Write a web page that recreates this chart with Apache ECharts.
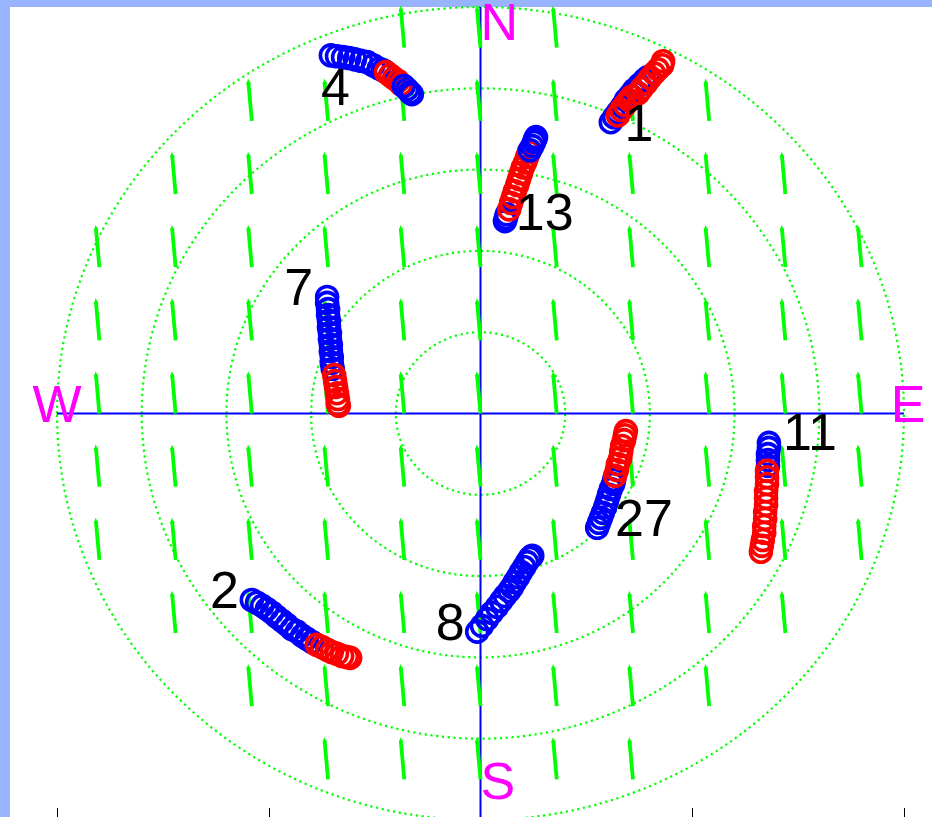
<!DOCTYPE html>
<html>
<head>
    <meta charset="utf-8">
    <title>Sky plot</title>
    <script src="https://cdn.jsdelivr.net/npm/echarts@6/dist/echarts.min.js"></script>
    <style>
        html, body { margin: 0; padding: 0; background: #99b4ff; }
        #map { width: 932px; height: 817px; }
    </style>
</head>
<body>
<div id="map"></div>
<script>
    // elevation rings (zenith distance)
    var ringRadii = [18, 36, 54, 72, 90];

    // quiver field: tails on a grid, one vector for all arrows
    var quiverRowY = [81, 64.8, 48.6, 32.4, 16.2, 0, -16.2, -32.4, -48.6, -64.8, -81];
    var quiverColX = [-81, -64.8, -48.6, -32.4, -16.2, 0, 16.2, 32.4, 48.6, 64.8, 81];
    var quiverHalfSpan = [1, 3, 4, 5, 5, 5, 5, 5, 4, 3, 2];
    var quiverU = -0.74, quiverV = 8.6;

    // bottom axis ticks
    var xTicks = [-90, -45, 0, 45, 90];

    // compass letters
    var compassText = ['N', 'E', 'S', 'W'];
    var compassX = [0, 90.9, 0, -90];
    var compassY = [85.8, 1.4, -82.2, 1.4];
    var compassAlign = ['left', 'center', 'left', 'center'];

    // satellite tracks: [x, y, 0 = blue / 1 = red]
    var sat4 = [[-31.8, 79.3, 0], [-30.5, 79.1, 0], [-29.2, 78.9, 0], [-27.9, 78.7, 0], [-26.7, 78.4, 0], [-25.4, 78.1, 0],
        [-24.1, 77.8, 0], [-22.8, 77.1, 0], [-21.6, 76.4, 0], [-20.7, 76.0, 0],
        [-20.1, 75.6, 1], [-19.2, 74.9, 1], [-18.4, 74.2, 1], [-17.5, 73.6, 1], [-16.9, 72.9, 1],
        [-16.3, 72.5, 0], [-15.6, 71.8, 0], [-15.0, 71.1, 0], [-14.6, 70.7, 0]];
    var sat1 = [[27.7, 64.5, 0], [28.4, 65.6, 0], [29.2, 66.7, 0], [30.1, 68.0, 0], [30.9, 69.4, 0], [31.8, 70.5, 0],
        [32.6, 71.6, 0], [33.7, 72.7, 0], [34.8, 73.8, 0], [35.6, 74.5, 0],
        [29.2, 66.0, 1], [29.9, 67.2, 1], [30.7, 68.3, 1], [31.6, 69.4, 1], [32.2, 70.2, 1],
        [33.5, 70.9, 1], [34.3, 72.0, 1], [35.2, 73.1, 1], [36.0, 74.2, 1], [36.9, 75.3, 1], [37.7, 76.2, 1],
        [38.6, 77.1, 1], [38.8, 78.0, 1]];
    var sat13 = [[5.2, 42.6, 0], [5.4, 43.3, 0], [5.6, 44.1, 0],
        [6.1, 45.2, 1], [6.5, 46.6, 1], [6.9, 47.9, 1], [7.3, 49.2, 1], [7.8, 50.6, 1], [8.2, 51.9, 1], [8.6, 53.2, 1],
        [9.0, 54.5, 1], [9.5, 55.6, 1], [9.9, 56.8, 1], [10.3, 57.9, 1],
        [10.5, 58.3, 0], [11.0, 59.2, 0], [11.4, 60.1, 0], [11.6, 60.7, 0], [11.8, 61.2, 0]];
    var sat7 = [[-32.6, 25.8, 0], [-32.6, 24.5, 0], [-32.4, 23.1, 0], [-32.4, 21.8, 0], [-32.2, 20.5, 0], [-32.2, 19.1, 0],
        [-32.0, 17.8, 0], [-32.0, 16.5, 0], [-31.8, 15.2, 0], [-31.8, 13.8, 0], [-31.6, 12.5, 0], [-31.6, 11.2, 0], [-31.4, 9.9, 0],
        [-31.1, 8.5, 1], [-30.9, 7.2, 1], [-30.7, 5.9, 1], [-30.5, 4.5, 1], [-30.3, 3.2, 1], [-30.3, 2.1, 1], [-30.1, 1.7, 1]];
    var sat11 = [[61.3, -6.5, 0], [61.3, -7.6, 0], [61.1, -9.0, 0], [61.1, -10.3, 0], [61.1, -11.6, 0],
        [60.9, -12.7, 1], [60.9, -14.1, 1], [60.9, -15.6, 1], [60.7, -17.2, 1], [60.7, -18.7, 1], [60.7, -20.2, 1],
        [60.5, -21.8, 1], [60.5, -23.3, 1], [60.3, -24.9, 1], [60.3, -26.4, 1], [60.0, -28.0, 1], [59.8, -29.3, 1], [59.6, -30.6, 1]];
    var sat27 = [[24.8, -25.3, 0], [25.2, -24.2, 0], [25.6, -23.1, 0], [26.0, -22.0, 0], [26.5, -20.7, 0], [26.9, -19.4, 0],
        [27.3, -18.0, 0], [27.7, -16.7, 0], [28.2, -15.6, 0], [28.4, -14.7, 0],
        [28.6, -13.8, 1], [29.0, -12.5, 1], [29.2, -11.2, 1], [29.7, -9.9, 1], [29.9, -8.5, 1], [30.1, -7.2, 1],
        [30.5, -5.9, 1], [30.7, -4.8, 1], [30.9, -3.9, 1]];
    var sat2 = [[-48.6, -41.3, 0], [-47.5, -41.9, 0], [-46.4, -42.6, 0], [-45.4, -43.3, 0], [-44.3, -44.1, 0], [-43.3, -45.0, 0],
        [-42.2, -45.9, 0], [-41.1, -46.8, 0], [-40.1, -47.7, 0], [-39.0, -48.3, 0], [-37.9, -49.2, 0], [-36.9, -49.9, 0], [-35.8, -50.6, 0],
        [-34.8, -51.2, 1], [-33.7, -51.7, 1], [-32.6, -52.3, 1], [-31.6, -52.8, 1], [-30.5, -53.2, 1], [-29.4, -53.7, 1],
        [-28.4, -53.9, 1], [-27.7, -54.1, 1]];
    var sat8 = [[-0.7, -48.3, 0], [0.3, -47.0, 0], [1.4, -45.5, 0], [2.4, -44.1, 0], [3.5, -42.8, 0], [4.4, -41.5, 0],
        [5.2, -40.4, 0], [6.1, -39.3, 0], [6.7, -38.4, 0], [7.3, -37.3, 0], [8.0, -36.2, 0], [8.6, -35.1, 0],
        [9.3, -34.0, 0], [9.9, -32.9, 0], [10.5, -32.0, 0], [11.0, -31.5, 0]];

    // satellite numbers and where they are written
    var prns = ['4', '1', '13', '7', '11', '27', '2', '8'];
    var prnX = [-33.9, 30.6, 7.5, -41.7, 64.3, 28.6, -57.5, -9.5];
    var prnY = [71.4, 63.5, 43.9, 27.1, -5.0, -23.9, -39.8, -46.9];

    var tracks = [sat4, sat1, sat13, sat7, sat11, sat27, sat2, sat8];
    var FONT = 'normal 52px "Liberation Sans", Arial, Helvetica, sans-serif';

    var quiverData = [];
    quiverRowY.forEach(function (y, i) {
        quiverColX.forEach(function (x, j) {
            if (Math.abs(j - 5) <= quiverHalfSpan[i]) quiverData.push([x, y]);
        });
    });

    function trackSeries(pts) {
        return {
            type: 'scatter',
            symbol: 'circle',
            symbolSize: 21,
            silent: true,
            z: 4,
            itemStyle: { color: 'rgba(0,0,0,0)', borderWidth: 3.6, opacity: 1 },
            data: pts.map(function (p) {
                return { value: [p[0], p[1]], itemStyle: { borderColor: p[2] ? '#ff0000' : '#0000ff' } };
            })
        };
    }

    function textSeries(xs, ys, texts, aligns, color, z) {
        return {
            type: 'custom',
            silent: true,
            z: z,
            data: xs.map(function (x, i) { return [x, ys[i]]; }),
            renderItem: function (params, api) {
                var p = api.coord([api.value(0), api.value(1)]);
                var a = aligns ? aligns[params.dataIndex] : 'left';
                return {
                    type: 'text',
                    style: {
                        text: texts[params.dataIndex], x: p[0], y: p[1], fill: color, font: FONT,
                        textAlign: a, align: a, textVerticalAlign: 'middle', verticalAlign: 'middle'
                    }
                };
            }
        };
    }

    var series = [
        {
            type: 'custom',
            silent: true,
            z: 1,
            data: ringRadii.map(function (r) { return [r, 0]; }),
            renderItem: function (params, api) {
                var r = api.value(0);
                var c = api.coord([0, 0]);
                var s = api.size([r, r]);
                return {
                    type: 'ellipse',
                    shape: { cx: c[0], cy: c[1], rx: s[0], ry: s[1] },
                    style: { fill: 'none', stroke: '#00ff00', lineWidth: 2.2, lineDash: [2.2, 3.6] }
                };
            }
        },
        {
            type: 'line', silent: true, z: 2, symbol: 'none',
            lineStyle: { color: '#0000ff', width: 2 },
            data: [[-90, 0], [90, 0]]
        },
        {
            type: 'line', silent: true, z: 2, symbol: 'none',
            lineStyle: { color: '#0000ff', width: 2 },
            data: [[0, -90], [0, 90]]
        },
        {
            type: 'custom',
            silent: true,
            z: 3,
            data: quiverData,
            renderItem: function (params, api) {
                var t = api.coord([api.value(0), api.value(1)]);
                var h = api.coord([api.value(0) + quiverU, api.value(1) + quiverV]);
                var dx = h[0] - t[0], dy = h[1] - t[1];
                var len = Math.sqrt(dx * dx + dy * dy), ux = dx / len, uy = dy / len;
                var b = 2.5, w = 1;
                return {
                    type: 'group',
                    children: [
                        {
                            type: 'line',
                            shape: { x1: t[0], y1: t[1], x2: h[0], y2: h[1] },
                            style: { stroke: '#00ff00', lineWidth: 3.8 }
                        },
                        {
                            type: 'polyline',
                            shape: {
                                points: [[h[0] - ux * b - uy * w, h[1] - uy * b + ux * w], [h[0], h[1]],
                                    [h[0] - ux * b + uy * w, h[1] - uy * b - ux * w]]
                            },
                            style: { stroke: '#00ff00', lineWidth: 2.5, fill: 'none' }
                        }
                    ]
                };
            }
        }
    ];
    tracks.forEach(function (t) { series.push(trackSeries(t)); });
    series.push(textSeries(prnX, prnY, prns, null, '#000000', 5));
    series.push(textSeries(compassX, compassY, compassText, compassAlign, '#ff00ff', 5));

    var skyChart = echarts.init(document.getElementById('map'));
    skyChart.setOption({
        animation: false,
        backgroundColor: '#99b4ff',
        grid: {
            show: true,
            backgroundColor: '#ffffff',
            borderWidth: 0,
            left: 10,
            top: 7,
            width: 941,
            height: 813,
            outerBoundsMode: 'none',
            containLabel: false
        },
        xAxis: {
            type: 'value',
            min: -100,
            max: 100,
            axisLine: { show: false, onZero: false },
            splitLine: { show: false },
            axisLabel: { show: false },
            axisTick: {
                show: true,
                inside: true,
                length: 12,
                customValues: xTicks,
                lineStyle: { color: '#000000', width: 1 }
            }
        },
        yAxis: {
            type: 'value',
            min: -90,
            max: 90,
            show: false
        },
        series: series
    });
</script>
</body>
</html>
